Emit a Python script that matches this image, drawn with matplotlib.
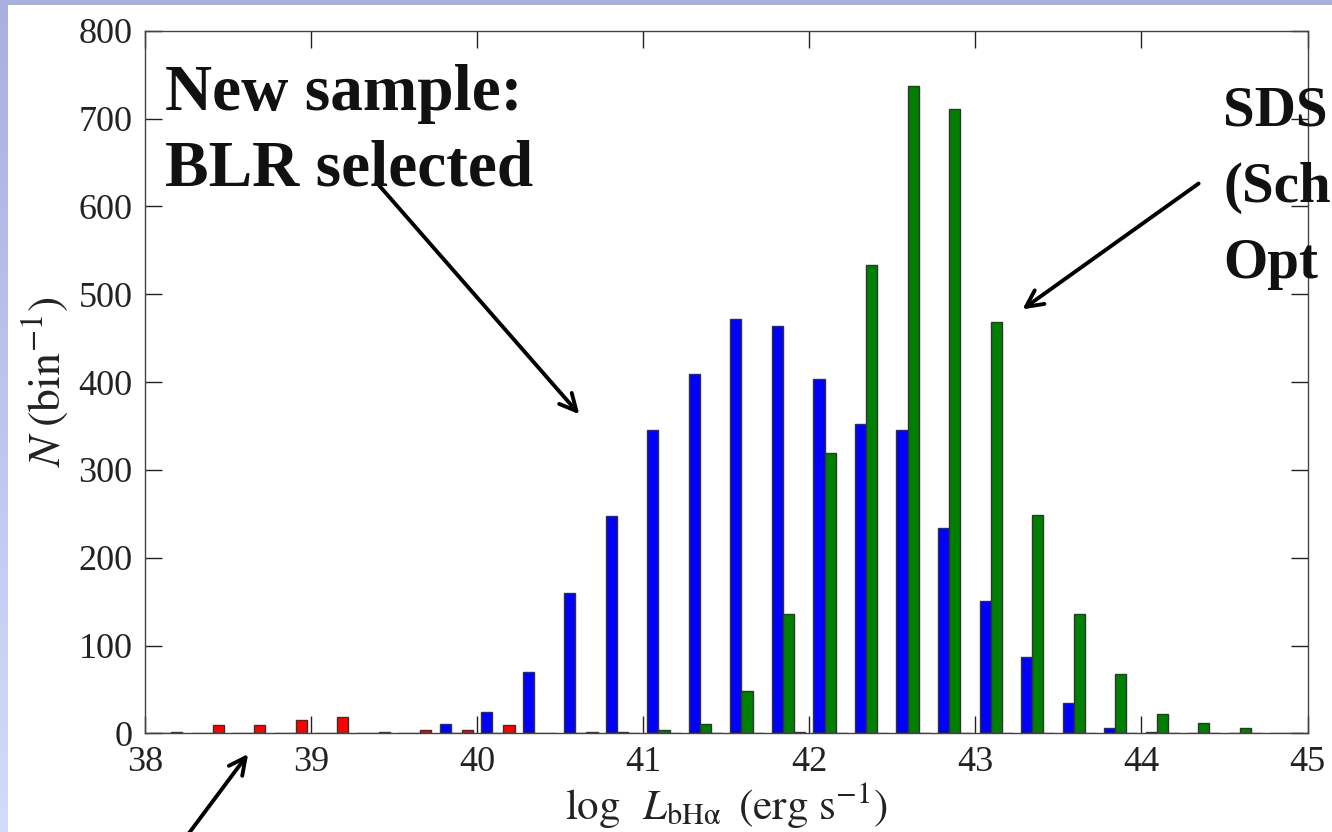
import numpy as np
import matplotlib
matplotlib.use("Agg")
import matplotlib.pyplot as plt
from matplotlib.patches import Rectangle
from matplotlib.colors import LinearSegmentedColormap

# ---- data: counts per 0.25-dex bin of log L_bHalpha ----
bin_edges = [38.0, 38.25, 38.5, 38.75, 39.0, 39.25, 39.5, 39.75, 40.0, 40.25,
             40.5, 40.75, 41.0, 41.25, 41.5, 41.75, 42.0, 42.25, 42.5, 42.75,
             43.0, 43.25, 43.5, 43.75, 44.0, 44.25, 44.5, 44.75, 45.0]
blue_counts = [0, 0, 0, 0, 0, 0, 0, 11, 24, 70, 160, 247, 345, 409, 472, 464,
               404, 352, 345, 234, 151, 87, 35, 6, 2, 0, 0, 0]
green_counts = [0, 0, 0, 0, 0, 0, 0, 0, 0, 0, 0, 2, 4, 11, 48, 136,
                319, 533, 737, 711, 468, 249, 136, 68, 22, 12, 6, 0]
red_counts = [2, 9, 9, 15, 18, 2, 4, 4, 9, 0, 2, 0, 0, 0, 0, 2,
              0, 0, 0, 0, 0, 0, 0, 0, 0, 0, 0, 0]
series_colors = ["#0000ff", "#008000", "#ff0000"]
xticks = [38, 39, 40, 41, 42, 43, 44, 45]
yticks = [0, 100, 200, 300, 400, 500, 600, 700, 800]

plt.rcParams["mathtext.fontset"] = "stix"
plt.rcParams["font.family"] = ["Liberation Serif", "DejaVu Serif"]

W, H = 1332, 832
fig = plt.figure(figsize=(W / 100, H / 100), dpi=100)
fig.patch.set_facecolor("white")

# slide decoration: left gradient strip and top band
strip = fig.add_axes([0, 0, 8 / W, 1])
cmap = LinearSegmentedColormap.from_list("slide", ["#a9afe0", "#d3dbfb"])
strip.imshow(np.linspace(0, 1, 256).reshape(-1, 1), aspect="auto", cmap=cmap,
             extent=[0, 1, 0, 1])
strip.axis("off")
fig.patches.append(Rectangle((0, 1 - 5 / H), 1, 5 / H, transform=fig.transFigure,
                             facecolor="#a9afe0", edgecolor="none", zorder=5))

ax = fig.add_axes([145 / W, 1 - 733.3 / H, (1307.5 - 145) / W, (733.3 - 30.9) / H])

centers = [(a + b) / 2 for a, b in zip(bin_edges[:-1], bin_edges[1:])]
ax.hist([centers, centers, centers], bins=bin_edges,
        weights=[blue_counts, green_counts, red_counts],
        color=series_colors, edgecolor="#333333", linewidth=1.0)

ax.set_xlim(38, 45)
ax.set_ylim(0, 800)
ax.set_xticks(xticks)
ax.set_yticks(yticks)
ax.tick_params(direction="in", length=12, width=1, top=True, right=True,
               labelsize=26, pad=9, colors="#222222")
for s in ax.spines.values():
    s.set_color("#444444")
    s.set_linewidth(1.0)

ax.set_xlabel(r"$\log\;\;L_{\rm bH\alpha}\;\;({\rm erg\ s^{-1}})$", fontsize=31,
              labelpad=1, color="#222222")
ax.set_ylabel(r"$N\;({\rm bin^{-1}})$", fontsize=33, labelpad=6, color="#222222")

# annotations
tfont = dict(fontsize=47, fontweight="bold", color="#111111",
             family=["Liberation Serif", "DejaVu Serif"])
fig.text(165 / W, 1 - 110 / H, "New sample:", va="baseline", ha="left", **tfont)
fig.text(165 / W, 1 - 185 / H, "BLR selected", va="baseline", ha="left", **tfont)
rfont = dict(tfont, fontsize=41)
fig.text(1223 / W, 1 - 125 / H, "SDS", va="baseline", ha="left", **rfont)
fig.text(1223 / W, 1 - 202 / H, "(Sch", va="baseline", ha="left", **rfont)
fig.text(1223 / W, 1 - 278 / H, "Opt", va="baseline", ha="left", **rfont)

arrow = dict(arrowstyle="->", lw=2.8, color="black", mutation_scale=30)
ax.annotate("", xy=(40.626, 361), xytext=(39.382, 630), arrowprops=arrow,
            annotation_clip=False)
ax.annotate("", xy=(43.27, 481), xytext=(44.358, 628), arrowprops=arrow,
            annotation_clip=False)
ax.annotate("", xy=(38.631, -21), xytext=(38.24, -120), arrowprops=arrow,
            annotation_clip=False)

fig.savefig("out.png", dpi=100)
